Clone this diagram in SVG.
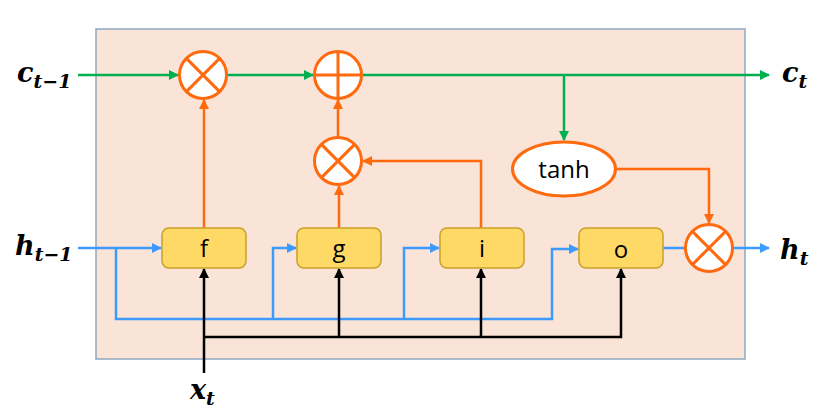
<svg xmlns="http://www.w3.org/2000/svg" width="830" height="415" viewBox="0 0 830 415">
<defs>
<style>
.bg{fill:#FAE4D7;stroke:#8FA6C0;stroke-width:1.5}
.op{fill:#fff;stroke:#FF6A0E;stroke-width:3}
.opl{stroke:#FF6A0E;stroke-width:3;fill:none}
.gate{fill:#FFD966;stroke:#C9A02A;stroke-width:1.5}
.g{stroke:#00B050;stroke-width:2.5;fill:none}
.o{stroke:#FF6A0E;stroke-width:2.5;fill:none}
.b{stroke:#3D9BFF;stroke-width:2.5;fill:none}
.k{stroke:#000;stroke-width:2.5;fill:none}
.lbl{font-family:"Open Sans","Liberation Sans",sans-serif;font-size:24px;fill:#000;text-anchor:middle}
.m{font-family:"DejaVu Serif","Liberation Serif",serif;font-weight:bold;font-style:italic;fill:#000}
</style>
<marker id="ag" viewBox="0 0 10 10" refX="9" refY="5" markerWidth="4" markerHeight="4" orient="auto"><path d="M0,0L10,5L0,10z" fill="#00B050"/></marker>
<marker id="ao" viewBox="0 0 10 10" refX="9" refY="5" markerWidth="4" markerHeight="4" orient="auto"><path d="M0,0L10,5L0,10z" fill="#FF6A0E"/></marker>
<marker id="ab" viewBox="0 0 10 10" refX="9" refY="5" markerWidth="4" markerHeight="4" orient="auto"><path d="M0,0L10,5L0,10z" fill="#3D9BFF"/></marker>
<marker id="ak" viewBox="0 0 10 10" refX="9" refY="5" markerWidth="4" markerHeight="4" orient="auto"><path d="M0,0L10,5L0,10z" fill="#000"/></marker>
</defs>
<rect class="bg" x="96" y="29" width="649" height="330"/>
<g id="connectors">
<path class="g" d="M78,75H178" marker-end="url(#ag)"/>
<path class="g" d="M227,75H313" marker-end="url(#ag)"/>
<path class="g" d="M362,75H769" marker-end="url(#ag)"/>
<path class="g" d="M564,75V140" marker-end="url(#ag)"/>
<path class="o" d="M204,228V100" marker-end="url(#ao)"/>
<path class="o" d="M339,228V186" marker-end="url(#ao)"/>
<path class="o" d="M338,137V100" marker-end="url(#ao)"/>
<path class="o" d="M481,228V161H363" marker-end="url(#ao)"/>
<path class="o" d="M616,169H709V223" marker-end="url(#ao)"/>
<path class="b" d="M78,248H161" marker-end="url(#ab)"/>
<path class="b" d="M116,248V319H552V249H578" marker-end="url(#ab)"/>
<path class="b" d="M273,319V248H296" marker-end="url(#ab)"/>
<path class="b" d="M404,319V248H439" marker-end="url(#ab)"/>
<path class="b" d="M663,248H685"/>
<path class="b" d="M733,248H769" marker-end="url(#ab)"/>
<path class="k" d="M204,373V269" marker-end="url(#ak)"/>
<path class="k" d="M204,337H621V269" marker-end="url(#ak)"/>
<path class="k" d="M339,337V269" marker-end="url(#ak)"/>
<path class="k" d="M481,337V269" marker-end="url(#ak)"/>
</g>
<g id="mul1"><circle class="op" cx="203" cy="75" r="23.5"/><path class="opl" d="M186.4,58.4L219.6,91.6M219.6,58.4L186.4,91.6"/></g>
<g id="add"><circle class="op" cx="338" cy="75" r="23.5"/><path class="opl" d="M314.5,75H361.5M338,51.5V98.5"/></g>
<g id="mul2"><circle class="op" cx="338" cy="161" r="23.5"/><path class="opl" d="M321.4,144.4L354.6,177.6M354.6,144.4L321.4,177.6"/></g>
<g id="mul3"><circle class="op" cx="709" cy="248" r="23.5"/><path class="opl" d="M692.4,231.4L725.6,264.6M725.6,231.4L692.4,264.6"/></g>
<g id="tanh"><ellipse class="op" cx="564" cy="169" rx="51.5" ry="27"/><text class="lbl" x="564" y="178">tanh</text></g>
<g id="f"><rect class="gate" x="162" y="228" width="84" height="40" rx="7"/><text class="lbl" x="204" y="257">f</text></g>
<g id="gg"><rect class="gate" x="297" y="228" width="84" height="40" rx="7"/><text class="lbl" x="339" y="257">g</text></g>
<g id="i"><rect class="gate" x="440" y="228" width="84" height="40" rx="7"/><text class="lbl" x="482" y="257">i</text></g>
<g id="o"><rect class="gate" x="579" y="228" width="84" height="40" rx="7"/><text class="lbl" x="621" y="258">o</text></g>
<g id="labels">
<text class="m" x="17" y="82" font-size="27">c<tspan font-size="19" dy="6">t−1</tspan></text>
<text class="m" x="15" y="255" font-size="27">h<tspan font-size="19" dy="6">t−1</tspan></text>
<text class="m" x="782" y="82" font-size="27">c<tspan font-size="19" dy="6">t</tspan></text>
<text class="m" x="780" y="259" font-size="27">h<tspan font-size="19" dy="6">t</tspan></text>
<text class="m" x="190" y="399" font-size="27">x<tspan font-size="19" dy="6">t</tspan></text>
</g>
</svg>
